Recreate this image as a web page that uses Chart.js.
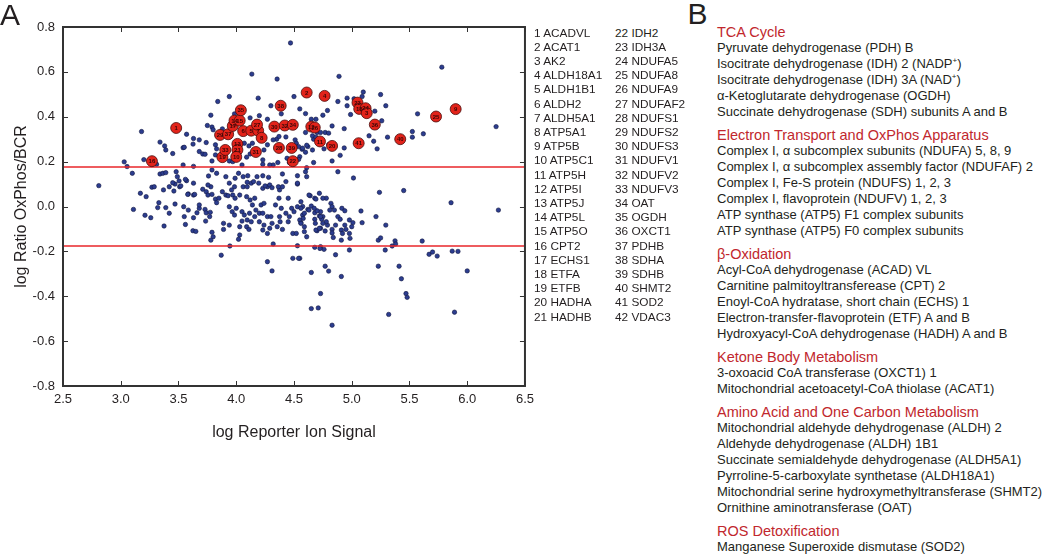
<!DOCTYPE html>
<html>
<head>
<meta charset="utf-8">
<script src="https://cdn.jsdelivr.net/npm/chart.js@4.4.1/dist/chart.umd.min.js"></script>
<style>
body { margin: 0; background: #fff; font-family: "Liberation Sans", Arial, sans-serif; color: #231f20; }
#wrap { position: relative; width: 1050px; height: 555px; overflow: hidden; }
.letter { position: absolute; font-size: 30px; line-height: 30px; }
.gene { position: absolute; font-size: 11.8px; line-height: 14px; white-space: nowrap; }
#panelB { position: absolute; left: 717px; top: 24px; font-size: 13px; line-height: 16px; white-space: nowrap; }
#panelB .head { color: #c1272d; font-size: 14.5px; }
#panelB .sec { margin-top: 7px; }
#panelB .sec:first-child { margin-top: 0; }
sup { font-size: 8px; line-height: 0; }
</style>
</head>
<body>
<div id="wrap">
  <canvas id="myChart" width="540" height="460"></canvas>
  <div class="letter" style="left:0px; top:-0.5px;">A</div>
  <div class="letter" style="left:687.5px; top:-1.5px;">B</div>
  <div id="genes"></div>
  <div id="panelB"></div>
</div>
<script>
// blue dots: all quantified proteins
var blueX = [
  4.47, 4.135, 4.354, 4.19, 3.94, 3.84, 4.50, 4.30, 4.55, 3.78, 3.985, 4.12, 4.20, 4.27, 4.39, 4.60, 4.65, 4.69,
  3.18, 3.75, 3.79, 3.80, 3.88, 3.57, 3.63, 3.68, 3.74, 3.34, 3.38, 3.39, 3.45, 3.54, 3.55, 3.626, 3.68, 3.71, 3.73,
  3.20, 3.03, 3.055, 3.31, 3.54, 3.63, 3.82, 3.83, 3.82, 3.79, 3.94, 4.35, 4.43, 4.51, 4.52, 4.54, 4.57, 4.62, 4.67,
  4.70, 4.77, 4.80, 4.80, 4.76, 4.55, 4.54, 4.44, 4.46, 4.36, 4.32, 4.29, 4.23, 4.61, 4.60, 4.61, 4.67, 4.53, 4.53,
  4.64, 4.72, 4.78, 4.07, 4.11, 4.14, 4.12, 4.09, 4.24, 4.27, 4.23, 3.97, 4.37, 4.32, 4.05,
  5.78, 4.89, 5.10, 5.09, 4.96, 5.02, 5.25, 4.88, 4.79, 4.75, 4.96, 4.99, 5.20, 5.295, 5.26, 5.57, 4.83, 4.935,
  4.60, 4.66, 4.69, 4.73, 5.15, 5.19, 5.22, 5.31, 5.525, 5.525, 5.62, 6.25, 4.575, 4.61, 4.60, 4.66, 4.935, 4.90,
  4.83, 4.88, 5.015, 4.68, 4.75, 5.24, 5.45,
  5.86, 6.27, 4.56, 4.575, 4.69, 4.65, 4.575, 4.58, 4.56, 4.59, 4.59, 4.61, 4.62, 4.68, 4.68, 4.685, 4.72, 4.73,
  4.70, 4.82, 4.83, 4.81, 4.85, 4.915, 4.94, 4.88, 4.90, 4.86, 4.83, 4.83, 4.79, 4.78, 4.75, 4.74, 4.73, 4.77, 4.70,
  4.98, 5.01, 5.00, 4.94, 4.95, 4.98, 4.91, 4.92, 4.985, 4.91, 4.84, 5.08, 5.09, 5.21, 5.295, 5.23, 5.25, 5.375,
  5.38, 5.61, 5.35, 5.29, 4.98, 4.86, 4.76, 4.73, 4.68, 4.55, 5.67, 5.70, 5.74, 5.87, 5.92, 6.00, 4.77, 4.80, 4.65,
  4.91, 5.23, 5.41, 5.43, 5.47, 5.48, 4.73, 4.65, 4.71, 4.83, 5.32, 5.89,
  2.81, 3.11, 3.17, 3.22, 3.21, 3.26, 3.27, 3.29, 3.33, 3.32, 3.37, 3.375, 3.39, 3.42, 3.42, 3.47, 3.51, 3.47, 3.46,
  3.545, 3.585, 3.55, 3.56, 3.585, 3.63, 3.63, 3.57, 3.63, 3.66, 3.68, 3.68, 3.625, 3.65, 3.71, 3.74, 3.755, 3.73,
  3.74, 3.77, 3.735, 3.775, 3.78, 3.82, 3.83, 3.85, 3.79, 3.80, 3.78, 3.87, 3.88, 3.91, 3.89, 3.89, 3.94, 3.94,
  3.985, 3.97, 3.99, 3.94, 3.965, 4.00, 3.985, 4.03, 4.05, 4.07, 4.05, 4.03, 4.03, 4.02, 3.945, 4.06, 4.095, 4.13,
  4.15, 4.09, 4.12, 4.16, 4.14, 4.17, 4.115, 4.16, 4.095, 4.13, 4.09, 4.11, 4.195, 4.23, 4.27, 4.29, 4.215, 4.24,
  4.20, 4.23, 4.27, 4.30, 4.20, 4.24, 4.23, 4.27, 4.31, 4.29, 4.32, 4.27, 4.31, 4.34, 4.37, 4.39, 4.45, 4.43, 4.46,
  4.45, 4.375, 4.38, 4.355, 4.40, 4.40, 4.53, 4.375, 4.48, 4.50, 4.53, 4.56, 4.59, 4.55, 4.49, 4.52, 4.56, 4.53,
  4.49, 4.54, 4.63, 4.63, 4.675, 4.73, 4.75, 4.69, 4.72, 4.725,
  3.10, 3.34, 3.365, 3.39, 3.45, 3.48, 3.49, 3.505, 3.52, 3.56, 3.58, 3.64, 3.755, 3.79, 3.76, 3.79, 3.83, 3.93,
  3.96, 3.91, 3.99, 4.02, 4.06, 4.095, 4.10, 4.18, 4.23, 4.28, 4.25, 4.31, 4.365, 4.43, 4.40
];
var blueY = [
  0.729, 0.59, 0.568, 0.483, 0.49, 0.468, 0.49, 0.449, 0.435, 0.407, 0.413, 0.395, 0.405, 0.389, 0.413, 0.414, 0.389, 0.389,
  0.334, 0.361, 0.354, 0.342, 0.346, 0.322, 0.303, 0.297, 0.285, 0.287, 0.27, 0.252, 0.236, 0.262, 0.264, 0.278, 0.245, 0.234, 0.233,
  0.209, 0.199, 0.178, 0.188, 0.185, 0.179, 0.275, 0.257, 0.23, 0.203, 0.203, 0.30, 0.31, 0.297, 0.282, 0.267, 0.255, 0.267, 0.30,
  0.33, 0.33, 0.327, 0.275, 0.257, 0.222, 0.21, 0.215, 0.196, 0.196, 0.185, 0.185, 0.188, 0.173, 0.155, 0.133, 0.196, 0.137, 0.10,
  0.048, 0.059, 0.037, 0.282, 0.27, 0.282, 0.234, 0.22, 0.252, 0.275, 0.208, 0.20, 0.312, 0.297, 0.185,
  0.621, 0.58, 0.51, 0.49, 0.483, 0.48, 0.499, 0.468, 0.428, 0.407, 0.449, 0.41, 0.425, 0.449, 0.382, 0.413, 0.359, 0.347,
  0.33, 0.315, 0.309, 0.33, 0.315, 0.291, 0.257, 0.309, 0.334, 0.309, 0.324, 0.356, 0.26, 0.273, 0.242, 0.252, 0.261, 0.228,
  0.203, 0.155, 0.127, 0.037, 0.037, 0.063, 0.071,
  0.017, -0.016, 0.021, 0.0, 0.033, 0.002, -0.038, -0.053, -0.072, -0.09, -0.112, -0.135, -0.013, -0.028, -0.057, -0.075, -0.042, -0.023,
  -0.019, 0.014, -0.001, -0.016, -0.016, -0.008, -0.019, -0.045, -0.057, -0.083, -0.102, -0.118, -0.083, -0.068, -0.045, -0.057, -0.097, -0.109, -0.108,
  -0.06, -0.072, -0.09, -0.083, -0.102, -0.12, -0.105, -0.12, -0.142, -0.15, -0.138, -0.02, -0.072, -0.045, -0.083, -0.15, -0.14, -0.153,
  -0.167, -0.154, -0.176, -0.194, -0.194, -0.215, -0.191, -0.179, -0.182, -0.231, -0.213, -0.203, -0.221, -0.199, -0.20, -0.287, -0.266, -0.288, -0.294,
  -0.312, -0.266, -0.266, -0.322, -0.388, -0.405, -0.388, -0.455, -0.452, -0.529, -0.481, -0.471,
  0.093, -0.013, 0.059, 0.044, -0.039, -0.05, 0.086, 0.088, 0.017, -0.005, 0.074, -0.087, -0.005, -0.03, 0.088, 0.10, 0.088, 0.011, 0.069,
  -0.001, -0.016, -0.045, -0.08, 0.056, 0.051, 0.104, 0.115, -0.05, -0.028, -0.008, 0.007, -0.108, -0.111, 0.077, 0.066, 0.051, -0.013,
  -0.028, -0.045, -0.065, -0.026, 0.088, 0.033, 0.017, 0.037, -0.115, -0.135, -0.15, -0.217, 0.066, 0.051, -0.075, -0.102, -0.083, 0.104,
  0.088, 0.051, 0.037, -0.001, -0.023, -0.008, -0.038, 0.051, -0.023, -0.038, -0.065, -0.09, -0.127, -0.146, -0.176, 0.088, 0.088, 0.104,
  0.111, 0.044, 0.029, 0.037, 0.007, -0.016, -0.03, -0.045, -0.06, -0.068, -0.09, -0.102, 0.104, 0.081, 0.088, 0.096, 0.007, 0.014,
  -0.03, -0.03, -0.045, -0.045, -0.068, -0.083, -0.105, -0.12, -0.075, -0.097, -0.167, -0.246, -0.287, 0.007, 0.037, -0.008, 0.037, -0.03, -0.045,
  -0.068, -0.045, -0.068, -0.09, -0.102, 0.088, 0.104, 0.074, -0.008, -0.023, -0.001, -0.008, -0.03, -0.06, -0.12, -0.12, -0.075, -0.175,
  -0.231, -0.231, 0.051, -0.016, -0.008, -0.045, -0.075, -0.105, -0.097, -0.187,
  0.148, 0.145, 0.148, 0.151, 0.106, 0.155, 0.133, 0.114, 0.092, 0.121, 0.054, 0.054, 0.096, 0.054, 0.136, 0.163, 0.148, 0.048,
  0.074, 0.133, 0.126, 0.148, 0.133, 0.108, 0.137, 0.133, 0.137, 0.13, 0.092, 0.084, 0.088, 0.111, 0.145
];

// red circles: mitochondrial proteins, numbered as in the list
var redX = [3.27, 3.48, 3.88, 3.905, 3.86, 3.93, 3.97, 3.985, 4.03, 4.04, 4.01, 4.01, 4.00, 4.06, 4.13, 4.19, 4.18,
  4.22, 4.17, 4.33, 4.385, 4.42, 4.49, 4.37, 4.48, 4.49, 4.61, 4.765, 4.65, 4.68, 4.725, 5.05, 5.065, 5.12, 5.13,
  5.20, 4.83, 5.06, 5.42, 5.73, 5.90];
var redY = [0.202, 0.35, 0.22, 0.252, 0.319, 0.322, 0.359, 0.383, 0.383, 0.429, 0.279, 0.252, 0.221, 0.336, 0.338,
  0.338, 0.365, 0.306, 0.243, 0.356, 0.449, 0.361, 0.364, 0.261, 0.261, 0.202, 0.508, 0.493, 0.356, 0.352, 0.29,
  0.463, 0.435, 0.438, 0.416, 0.365, 0.27, 0.282, 0.30, 0.401, 0.434];
var redLabel = ['16', '1', '19', '33', '29', '37', '17', '14', '15', '35', '13', '21', '10', '6', '5', '7', '27',
  '8', '31', '30', '38', '32', '34', '28', '39', '22', '2', '4', '12', '26', '11', '23', '18', '24', '3',
  '36', '20', '41', '40', '25', '9'];

var cutoff = 0.176;
var xTicksMin = 2.5, xTicksMax = 6.5;
var yTicksMin = -0.8, yTicksMax = 0.8;

var geneNames = ['ACADVL', 'ACAT1', 'AK2', 'ALDH18A1', 'ALDH1B1', 'ALDH2', 'ALDH5A1', 'ATP5A1', 'ATP5B', 'ATP5C1',
  'ATP5H', 'ATP5I', 'ATP5J', 'ATP5L', 'ATP5O', 'CPT2', 'ECHS1', 'ETFA', 'ETFB', 'HADHA', 'HADHB',
  'IDH2', 'IDH3A', 'NDUFA5', 'NDUFA8', 'NDUFA9', 'NDUFAF2', 'NDUFS1', 'NDUFS2', 'NDUFS3', 'NDUFV1', 'NDUFV2',
  'NDUFV3', 'OAT', 'OGDH', 'OXCT1', 'PDHB', 'SDHA', 'SDHB', 'SHMT2', 'SOD2', 'VDAC3'];

var pathwayTitles = ['TCA Cycle', 'Electron Transport and OxPhos Apparatus', '\u03B2-Oxidation',
  'Ketone Body Metabolism', 'Amino Acid and One Carbon Metabolism', 'ROS Detoxification'];
var pathwayItems = [
  ['Pyruvate dehydrogenase (PDH) B', 'Isocitrate dehydrogenase (IDH) 2 (NADP<sup>+</sup>)',
   'Isocitrate dehydrogenase (IDH) 3A (NAD<sup>+</sup>)', '\u03B1-Ketoglutarate dehydrogenase (OGDH)',
   'Succinate dehydrogenase (SDH) subunits A and B'],
  ['Complex I, \u03B1 subcomplex subunits (NDUFA) 5, 8, 9', 'Complex I, \u03B1 subcomplex assembly factor (NDUFAF) 2',
   'Complex I, Fe-S protein (NDUFS) 1, 2, 3', 'Complex I, flavoprotein (NDUFV) 1, 2, 3',
   'ATP synthase (ATP5) F1 complex subunits', 'ATP synthase (ATP5) F0 complex subunits'],
  ['Acyl-CoA dehydrogenase (ACAD) VL', 'Carnitine palmitoyltransferease (CPT) 2', 'Enoyl-CoA hydratase, short chain (ECHS) 1',
   'Electron-transfer-flavoprotein (ETF) A and B', 'Hydroxyacyl-CoA dehydrogenase (HADH) A and B'],
  ['3-oxoacid CoA transferase (OXCT1) 1', 'Mitochondrial acetoacetyl-CoA thiolase (ACAT1)'],
  ['Mitochondrial aldehyde dehydrogenase (ALDH) 2', 'Aldehyde dehydrogenase (ALDH) 1B1',
   'Succinate semialdehyde dehydrogenase (ALDH5A1)', 'Pyrroline-5-carboxylate synthetase (ALDH18A1)',
   'Mitochondrial serine hydroxymethyltransferase (SHMT2)', 'Ornithine aminotransferase (OAT)'],
  ['Manganese Superoxide dismutase (SOD2)']
];

// gene key, two columns
var genesDiv = document.getElementById('genes');
geneNames.forEach(function (name, i) {
  var d = document.createElement('div');
  d.className = 'gene';
  var col = i < 21 ? 0 : 1;
  var row = i % 21;
  d.style.left = (col === 0 ? 534 : 615) + 'px';
  d.style.top = (25.5 + row * 14.2) + 'px';
  d.textContent = (i + 1) + ' ' + name;
  genesDiv.appendChild(d);
});

// panel B
var html = '';
pathwayTitles.forEach(function (t, i) {
  html += '<div class="sec"><div class="head">' + t + '</div>';
  pathwayItems[i].forEach(function (item) {
    html += '<div>' + item + '</div>';
  });
  html += '</div>';
});
document.getElementById('panelB').innerHTML = html;

var bluePoints = blueX.map(function (x, i) { return { x: x, y: blueY[i] }; });
var redPoints = redX.map(function (x, i) { return { x: x, y: redY[i] }; });

// box with inward ticks on all four sides
var framePlugin = {
  id: 'frame',
  afterDraw: function (chart) {
    var ctx = chart.ctx, a = chart.chartArea;
    var xs = chart.scales.x, ys = chart.scales.y;
    ctx.save();
    ctx.strokeStyle = '#333';
    ctx.lineWidth = 2;
    ctx.strokeRect(a.left, a.top, a.right - a.left, a.bottom - a.top);
    ctx.lineWidth = 1;
    ctx.beginPath();
    xs.ticks.forEach(function (t) {
      var px = Math.round(xs.getPixelForValue(t.value)) + 0.5;
      ctx.moveTo(px, a.bottom); ctx.lineTo(px, a.bottom - 5);
      ctx.moveTo(px, a.top); ctx.lineTo(px, a.top + 5);
    });
    ys.ticks.forEach(function (t) {
      var py = Math.round(ys.getPixelForValue(t.value)) + 0.5;
      ctx.moveTo(a.left, py); ctx.lineTo(a.left + 5, py);
      ctx.moveTo(a.right, py); ctx.lineTo(a.right - 5, py);
    });
    ctx.stroke();
    ctx.restore();
  }
};

// numbers inside the red circles
var labelPlugin = {
  id: 'redLabels',
  afterDatasetsDraw: function (chart) {
    var ctx = chart.ctx;
    var meta = chart.getDatasetMeta(0);
    ctx.save();
    ctx.font = 'bold 6px "Liberation Sans", Arial';
    ctx.fillStyle = '#3a0606';
    ctx.textAlign = 'center';
    ctx.textBaseline = 'middle';
    meta.data.forEach(function (el, i) {
      ctx.fillText(redLabel[i], el.x, el.y + 0.5);
    });
    ctx.restore();
  }
};

var tickFont = { family: '"Liberation Sans", Arial, sans-serif', size: 13 };
var titleFont = { family: '"Liberation Sans", Arial, sans-serif', size: 16 };

var ctx = document.getElementById('myChart');
var myChart = new Chart(ctx, {
  type: 'scatter',
  data: {
    datasets: [
      {
        label: 'mitochondrial',
        data: redPoints,
        backgroundColor: '#e2231a',
        borderColor: '#4a0d0d',
        borderWidth: 0.8,
        pointRadius: 5.5,
        order: 0
      },
      {
        label: 'upper cutoff',
        type: 'line',
        data: [{ x: xTicksMin, y: cutoff }, { x: xTicksMax, y: cutoff }],
        borderColor: '#e8262a',
        borderWidth: 1.6,
        pointRadius: 0,
        order: 1
      },
      {
        label: 'lower cutoff',
        type: 'line',
        data: [{ x: xTicksMin, y: -cutoff }, { x: xTicksMax, y: -cutoff }],
        borderColor: '#e8262a',
        borderWidth: 1.6,
        pointRadius: 0,
        order: 1
      },
      {
        label: 'all proteins',
        data: bluePoints,
        backgroundColor: '#2c3d8f',
        borderColor: '#101640',
        borderWidth: 0.6,
        pointRadius: 2.2,
        order: 2
      }
    ]
  },
  options: {
    responsive: false,
    animation: false,
    devicePixelRatio: 1,
    layout: { padding: { top: 27, right: 13, left: 0, bottom: 0 } },
    plugins: { legend: { display: false }, tooltip: { enabled: false } },
    scales: {
      x: {
        type: 'linear',
        min: xTicksMin,
        max: xTicksMax,
        grid: { display: false, drawTicks: false },
        border: { display: false },
        ticks: {
          stepSize: 0.5,
          autoSkip: false,
          maxRotation: 0,
          padding: 6,
          color: '#231f20',
          font: tickFont,
          callback: function (v) { return Number(v).toFixed(1); }
        },
        title: {
          display: true,
          text: 'log Reporter Ion Signal',
          color: '#231f20',
          font: titleFont,
          padding: { top: 0, bottom: 18 }
        },
        afterFit: function (s) { s.height = 74; }
      },
      y: {
        type: 'linear',
        min: yTicksMin,
        max: yTicksMax,
        grid: { display: false, drawTicks: false },
        border: { display: false },
        ticks: {
          stepSize: 0.2,
          autoSkip: false,
          padding: 8,
          color: '#231f20',
          font: tickFont,
          callback: function (v) {
            var s = Number(v).toFixed(1);
            return s === '-0.0' ? '0.0' : s;
          }
        },
        title: {
          display: true,
          text: 'log Ratio OxPhos/BCR',
          color: '#231f20',
          font: titleFont,
          padding: { top: 12, bottom: 0 }
        },
        afterFit: function (s) { s.width = 63; }
      }
    }
  },
  plugins: [framePlugin, labelPlugin]
});
</script>
</body>
</html>
